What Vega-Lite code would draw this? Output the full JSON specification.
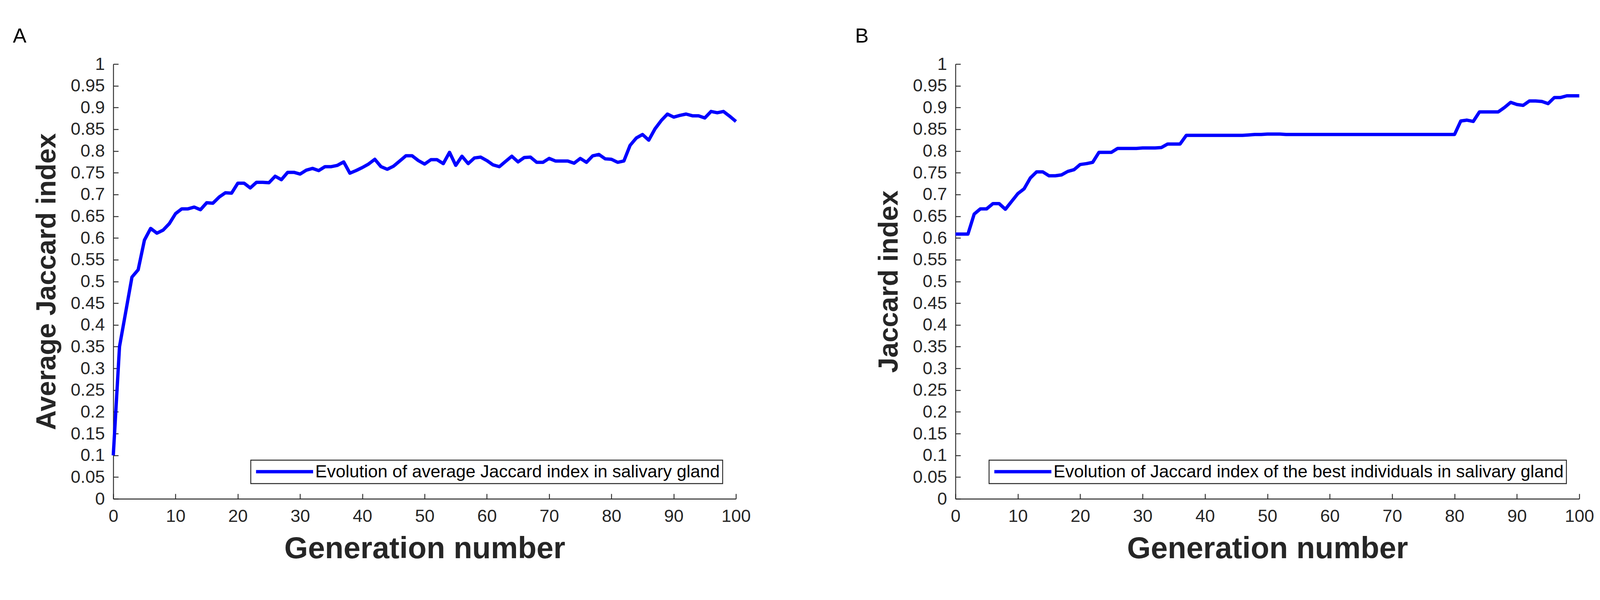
{
  "$schema": "https://vega.github.io/schema/vega-lite/v6.json",
  "background": "white",
  "padding": {"left": 33, "top": 67, "right": 0, "bottom": 0},
  "config": {
    "view": {"stroke": null},
    "font": "Liberation Sans",
    "axis": {
      "grid": false,
      "domainColor": "#262626",
      "domainWidth": 2.3,
      "tickColor": "#262626",
      "tickWidth": 2.3,
      "tickSize": -13,
      "labelFont": "Liberation Sans",
      "labelFontSize": 45,
      "labelColor": "#262626",
      "labelPadding": 35,
      "labelFlush": false,
      "labelOverlap": false,
      "titleFont": "Liberation Sans",
      "titleFontWeight": "bold",
      "titleColor": "#262626"
    },
    "axisX": {"titleFontSize": 78, "titlePadding": 22},
    "axisY": {"titleFontSize": 70, "titlePadding": 24},
    "legend": {
      "orient": "none",
      "title": null,
      "symbolType": "M-5,0H5",
      "symbolSize": 853,
      "symbolStrokeWidth": 8.5,
      "symbolOffset": 57,
      "labelOffset": 56,
      "labelFont": "Liberation Sans",
      "labelFontSize": 45,
      "labelColor": "#000000",
      "labelLimit": 0,
      "padding": 7,
      "strokeColor": "#262626",
      "strokeWidth": 2.3,
      "fillColor": "#ffffff"
    },
    "title": {
      "anchor": "start",
      "frame": "group",
      "fontSize": 52,
      "fontWeight": "normal",
      "color": "#000000",
      "font": "Liberation Sans",
      "dx": -257,
      "offset": 22
    }
  },
  "datasets": {
    "jac": [
      {"g": 0, "avg": 0.10, "best": 0.609},
      {"g": 1, "avg": 0.35, "best": 0.609},
      {"g": 2, "avg": 0.43, "best": 0.609},
      {"g": 3, "avg": 0.51, "best": 0.655},
      {"g": 4, "avg": 0.527, "best": 0.667},
      {"g": 5, "avg": 0.595, "best": 0.667},
      {"g": 6, "avg": 0.622, "best": 0.679},
      {"g": 7, "avg": 0.611, "best": 0.679},
      {"g": 8, "avg": 0.618, "best": 0.666},
      {"g": 9, "avg": 0.633, "best": 0.684},
      {"g": 10, "avg": 0.656, "best": 0.702},
      {"g": 11, "avg": 0.667, "best": 0.713},
      {"g": 12, "avg": 0.667, "best": 0.738},
      {"g": 13, "avg": 0.671, "best": 0.752},
      {"g": 14, "avg": 0.665, "best": 0.752},
      {"g": 15, "avg": 0.681, "best": 0.743},
      {"g": 16, "avg": 0.680, "best": 0.743},
      {"g": 17, "avg": 0.694, "best": 0.745},
      {"g": 18, "avg": 0.704, "best": 0.753},
      {"g": 19, "avg": 0.703, "best": 0.757},
      {"g": 20, "avg": 0.726, "best": 0.769},
      {"g": 21, "avg": 0.726, "best": 0.771},
      {"g": 22, "avg": 0.715, "best": 0.774},
      {"g": 23, "avg": 0.728, "best": 0.797},
      {"g": 24, "avg": 0.728, "best": 0.797},
      {"g": 25, "avg": 0.727, "best": 0.797},
      {"g": 26, "avg": 0.742, "best": 0.806},
      {"g": 27, "avg": 0.734, "best": 0.806},
      {"g": 28, "avg": 0.751, "best": 0.806},
      {"g": 29, "avg": 0.751, "best": 0.806},
      {"g": 30, "avg": 0.747, "best": 0.807},
      {"g": 31, "avg": 0.756, "best": 0.807},
      {"g": 32, "avg": 0.760, "best": 0.807},
      {"g": 33, "avg": 0.755, "best": 0.808},
      {"g": 34, "avg": 0.764, "best": 0.816},
      {"g": 35, "avg": 0.764, "best": 0.816},
      {"g": 36, "avg": 0.767, "best": 0.816},
      {"g": 37, "avg": 0.775, "best": 0.836},
      {"g": 38, "avg": 0.749, "best": 0.836},
      {"g": 39, "avg": 0.755, "best": 0.836},
      {"g": 40, "avg": 0.762, "best": 0.836},
      {"g": 41, "avg": 0.770, "best": 0.836},
      {"g": 42, "avg": 0.781, "best": 0.836},
      {"g": 43, "avg": 0.764, "best": 0.836},
      {"g": 44, "avg": 0.758, "best": 0.836},
      {"g": 45, "avg": 0.765, "best": 0.836},
      {"g": 46, "avg": 0.777, "best": 0.836},
      {"g": 47, "avg": 0.789, "best": 0.837},
      {"g": 48, "avg": 0.789, "best": 0.838},
      {"g": 49, "avg": 0.778, "best": 0.838},
      {"g": 50, "avg": 0.770, "best": 0.839},
      {"g": 51, "avg": 0.780, "best": 0.839},
      {"g": 52, "avg": 0.780, "best": 0.839},
      {"g": 53, "avg": 0.771, "best": 0.838},
      {"g": 54, "avg": 0.797, "best": 0.838},
      {"g": 55, "avg": 0.767, "best": 0.838},
      {"g": 56, "avg": 0.788, "best": 0.838},
      {"g": 57, "avg": 0.771, "best": 0.838},
      {"g": 58, "avg": 0.784, "best": 0.838},
      {"g": 59, "avg": 0.786, "best": 0.838},
      {"g": 60, "avg": 0.778, "best": 0.838},
      {"g": 61, "avg": 0.768, "best": 0.838},
      {"g": 62, "avg": 0.764, "best": 0.838},
      {"g": 63, "avg": 0.776, "best": 0.838},
      {"g": 64, "avg": 0.788, "best": 0.838},
      {"g": 65, "avg": 0.775, "best": 0.838},
      {"g": 66, "avg": 0.785, "best": 0.838},
      {"g": 67, "avg": 0.786, "best": 0.838},
      {"g": 68, "avg": 0.774, "best": 0.838},
      {"g": 69, "avg": 0.774, "best": 0.838},
      {"g": 70, "avg": 0.783, "best": 0.838},
      {"g": 71, "avg": 0.777, "best": 0.838},
      {"g": 72, "avg": 0.777, "best": 0.838},
      {"g": 73, "avg": 0.777, "best": 0.838},
      {"g": 74, "avg": 0.772, "best": 0.838},
      {"g": 75, "avg": 0.783, "best": 0.838},
      {"g": 76, "avg": 0.774, "best": 0.838},
      {"g": 77, "avg": 0.789, "best": 0.838},
      {"g": 78, "avg": 0.792, "best": 0.838},
      {"g": 79, "avg": 0.782, "best": 0.838},
      {"g": 80, "avg": 0.781, "best": 0.838},
      {"g": 81, "avg": 0.774, "best": 0.869},
      {"g": 82, "avg": 0.777, "best": 0.871},
      {"g": 83, "avg": 0.813, "best": 0.868},
      {"g": 84, "avg": 0.830, "best": 0.890},
      {"g": 85, "avg": 0.838, "best": 0.890},
      {"g": 86, "avg": 0.825, "best": 0.890},
      {"g": 87, "avg": 0.851, "best": 0.890},
      {"g": 88, "avg": 0.870, "best": 0.900},
      {"g": 89, "avg": 0.885, "best": 0.912},
      {"g": 90, "avg": 0.878, "best": 0.907},
      {"g": 91, "avg": 0.882, "best": 0.905},
      {"g": 92, "avg": 0.885, "best": 0.915},
      {"g": 93, "avg": 0.881, "best": 0.915},
      {"g": 94, "avg": 0.881, "best": 0.914},
      {"g": 95, "avg": 0.876, "best": 0.909},
      {"g": 96, "avg": 0.891, "best": 0.923},
      {"g": 97, "avg": 0.888, "best": 0.923},
      {"g": 98, "avg": 0.891, "best": 0.927},
      {"g": 99, "avg": 0.880, "best": 0.927},
      {"g": 100, "avg": 0.868, "best": 0.927}
    ]
  },
  "data": {"name": "jac"},
  "bounds": "flush",
  "spacing": 562,
  "resolve": {"scale": {"color": "independent"}, "legend": {"color": "independent"}},
  "hconcat": [
    {
      "width": 1594,
      "height": 1113,
      "title": {"text": "A"},
      "mark": {"type": "line", "strokeWidth": 8.5, "strokeJoin": "round"},
      "encoding": {
        "x": {
          "field": "g", "type": "quantitative",
          "scale": {"domain": [0, 100], "nice": false},
          "axis": {"values": [0, 10, 20, 30, 40, 50, 60, 70, 80, 90, 100], "format": "d", "title": "Generation number"}
        },
        "y": {
          "field": "avg", "type": "quantitative",
          "scale": {"domain": [0, 1], "nice": false, "zero": false},
          "axis": {"values": [0, 0.05, 0.1, 0.15, 0.2, 0.25, 0.3, 0.35, 0.4, 0.45, 0.5, 0.55, 0.6, 0.65, 0.7, 0.75, 0.8, 0.85, 0.9, 0.95, 1], "format": "~g", "title": "Average Jaccard index"}
        },
        "color": {
          "datum": "Evolution of average Jaccard index in salivary gland",
          "scale": {"range": ["#0000ff"]},
          "legend": {"legendX": 352, "legendY": 1014}
        }
      }
    },
    {
      "width": 1597,
      "height": 1113,
      "title": {"text": "B"},
      "mark": {"type": "line", "strokeWidth": 8.5, "strokeJoin": "round"},
      "encoding": {
        "x": {
          "field": "g", "type": "quantitative",
          "scale": {"domain": [0, 100], "nice": false},
          "axis": {"values": [0, 10, 20, 30, 40, 50, 60, 70, 80, 90, 100], "format": "d", "title": "Generation number"}
        },
        "y": {
          "field": "best", "type": "quantitative",
          "scale": {"domain": [0, 1], "nice": false, "zero": false},
          "axis": {"values": [0, 0.05, 0.1, 0.15, 0.2, 0.25, 0.3, 0.35, 0.4, 0.45, 0.5, 0.55, 0.6, 0.65, 0.7, 0.75, 0.8, 0.85, 0.9, 0.95, 1], "format": "~g", "title": "Jaccard index"}
        },
        "color": {
          "datum": "Evolution of Jaccard index of the best individuals in salivary gland",
          "scale": {"range": ["#0000ff"]},
          "legend": {"legendX": 86, "legendY": 1014}
        }
      }
    }
  ]
}
